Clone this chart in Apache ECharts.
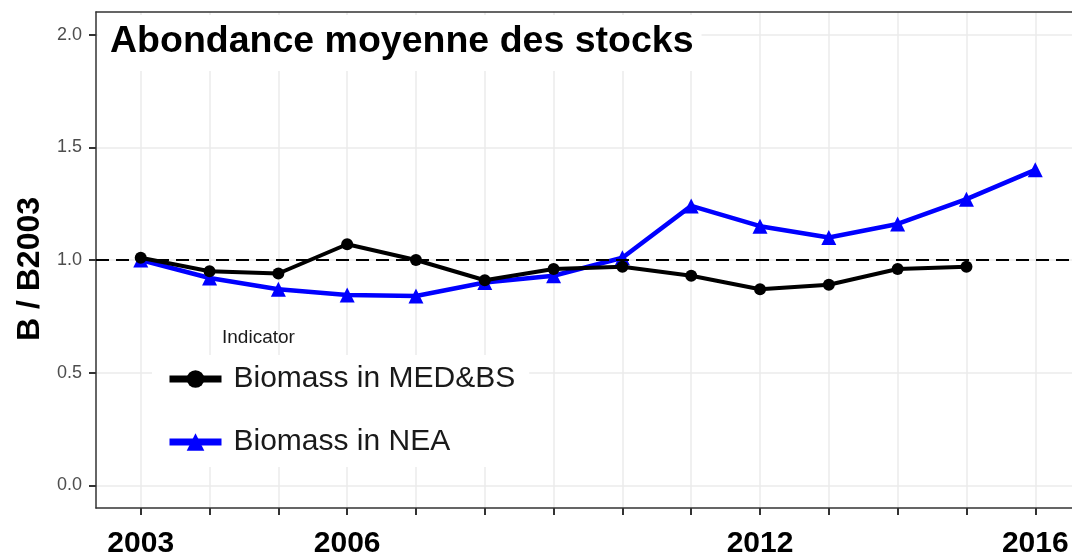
<!DOCTYPE html>
<html>
<head>
<meta charset="utf-8">
<script src="https://cdn.jsdelivr.net/npm/echarts@6/dist/echarts.min.js"></script>
<style>
  html, body { margin: 0; padding: 0; background: #fff; }
  #main { width: 1072px; height: 556px; }
</style>
</head>
<body>
<div id="main"></div>
<script>
var years = [2003, 2004, 2005, 2006, 2007, 2008, 2009, 2010, 2011, 2012, 2013, 2014, 2015, 2016];
var medbs = [1.01, 0.95, 0.94, 1.07, 1.00, 0.91, 0.96, 0.97, 0.93, 0.87, 0.89, 0.96, 0.97, null];
var nea = [1.00, 0.92, 0.87, 0.845, 0.84, 0.90, 0.93, 1.01, 1.24, 1.15, 1.10, 1.16, 1.27, 1.40];
var xLabels = [2003, 2006, 2012, 2016];
var yTicks = [0, 0.5, 1.0, 1.5, 2.0];
var refLine = 1.0;

var font = 'Liberation Sans, Arial, sans-serif';

function pairs(vals) {
    var out = [];
    for (var i = 0; i < years.length; i++) {
        if (vals[i] != null) out.push([years[i], vals[i]]);
    }
    return out;
}

var chart = echarts.init(document.getElementById('main'));

var option = {
    backgroundColor: '#ffffff',
    animation: false,
    textStyle: { fontFamily: font },
    title: [
        {
            text: 'Abondance moyenne des stocks',
            left: 98,
            top: 15,
            backgroundColor: '#ffffff',
            padding: [6, 8, 8, 12],
            textStyle: { fontSize: 37.5, fontWeight: 'bold', color: '#000', lineHeight: 42, fontFamily: font }
        },
        {
            text: 'Indicator',
            left: 222,
            top: 328,
            padding: 0,
            textStyle: { fontSize: 19, fontWeight: 'normal', color: '#1a1a1a', fontFamily: font }
        }
    ],
    legend: {
        orient: 'vertical',
        left: 152,
        top: 355,
        padding: [9, 14, 10, 14],
        backgroundColor: '#ffffff',
        itemWidth: 52,
        itemHeight: 22,
        itemGap: 33,
        data: ['Biomass in MED&BS', 'Biomass in NEA'],
        lineStyle: { width: 7 },
        textStyle: { fontSize: 30, color: '#1a1a1a', lineHeight: 30, padding: [0, 0, 0, 7], fontFamily: font }
    },
    grid: {
        left: 96,
        right: -8,
        top: 12,
        bottom: 48,
        containLabel: false,
        outerBoundsMode: 'none'
    },
    xAxis: [
        {
            type: 'value',
            min: 2002.35,
            max: 2016.65,
            position: 'bottom',
            axisLine: { show: true, onZero: false, lineStyle: { color: '#333', width: 1.5 } },
            axisTick: { show: true, length: 7, customValues: years, lineStyle: { color: '#333', width: 2 } },
            axisLabel: {
                customValues: xLabels,
                margin: 21,
                fontSize: 30,
                fontWeight: 'bold',
                color: '#000',
                fontFamily: font,
                formatter: function (v) { return String(v); }
            },
            splitLine: { show: true, lineStyle: { color: '#ebebeb', width: 1.5 } }
        },
        {
            type: 'value',
            min: 2002.35,
            max: 2016.65,
            position: 'top',
            axisLine: { show: true, onZero: false, lineStyle: { color: '#333', width: 1.5 } },
            axisTick: { show: false },
            axisLabel: { show: false },
            splitLine: { show: false }
        }
    ],
    yAxis: {
        type: 'value',
        min: -0.1,
        max: 2.1,
        name: 'B / B2003',
        nameLocation: 'middle',
        nameRotate: 90,
        nameGap: 47,
        nameTextStyle: { fontSize: 32, fontWeight: 'bold', color: '#000', fontFamily: font, padding: [0, 18, 0, 0] },
        axisLine: { show: true, onZero: false, lineStyle: { color: '#333', width: 1.5 } },
        axisTick: { show: true, length: 7, customValues: yTicks, lineStyle: { color: '#333', width: 2 } },
        axisLabel: {
            customValues: yTicks,
            margin: 14,
            fontSize: 18,
            color: '#4d4d4d',
            fontFamily: font,
            formatter: function (v) { return v.toFixed(1); }
        },
        splitLine: { show: true, lineStyle: { color: '#ebebeb', width: 1.5 } }
    },
    series: [
        {
            name: 'Biomass in NEA',
            type: 'line',
            data: pairs(nea),
            symbol: 'triangle',
            symbolSize: 15,
            color: '#0000ff',
            lineStyle: { color: '#0000ff', width: 4.5 },
            itemStyle: { color: '#0000ff' },
            z: 3
        },
        {
            name: 'Biomass in MED&BS',
            type: 'line',
            data: pairs(medbs),
            symbol: 'circle',
            symbolSize: 12,
            color: '#000000',
            lineStyle: { color: '#000000', width: 4 },
            itemStyle: { color: '#000000' },
            z: 4,
            markLine: {
                silent: true,
                symbol: 'none',
                label: { show: false },
                lineStyle: { color: '#000', type: [13, 7], width: 2 },
                data: [{ yAxis: refLine }]
            }
        }
    ]
};

chart.setOption(option);
</script>
</body>
</html>
